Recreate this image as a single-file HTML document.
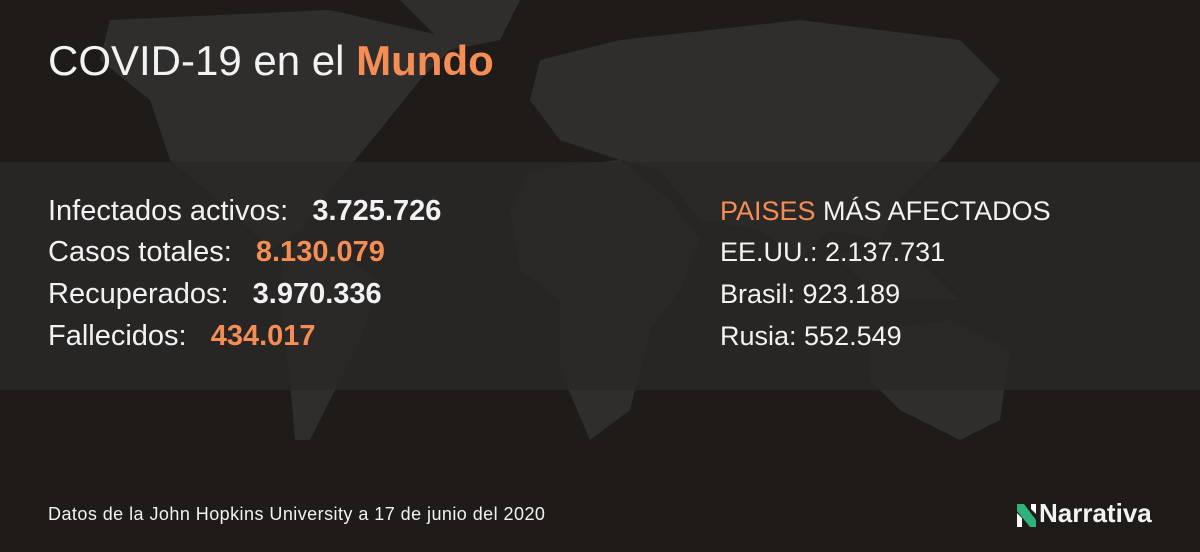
<!DOCTYPE html>
<html><head><meta charset="utf-8"><style>
body{margin:0;width:1200px;height:552px;overflow:hidden;background:#1e1b19;font-family:"Liberation Sans",sans-serif;color:#f2f2f2;position:relative}
svg{position:absolute;left:0;top:0}
.t{position:absolute;white-space:nowrap}
.o{color:#f68d55}
b{font-weight:bold;margin-left:8px}
.l{font-size:29px;left:48px}
.r{font-size:27px;left:720px}
</style></head><body>
<svg width="1200" height="552">
<g fill="#302e2d">
<path d="M110 20 L330 10 L460 40 L420 80 L380 130 L330 190 L300 230 L270 250 L230 210 L170 160 L150 100 L100 60 Z"/>
<path d="M400 0 L520 0 L500 40 L450 50 Z"/>
<path d="M285 245 L330 250 L380 280 L360 340 L330 400 L310 440 L295 440 L290 380 L280 300 Z"/>
<path d="M540 60 L620 40 L800 20 L960 40 L1000 80 L950 150 L900 200 L880 240 L830 230 L800 260 L760 230 L700 220 L660 170 L620 160 L560 140 L530 100 Z"/>
<path d="M530 170 L620 160 L670 200 L700 240 L680 290 L650 330 L630 410 L590 440 L560 370 L560 300 L520 270 L510 210 Z"/>
<path d="M870 330 L950 320 L1010 350 L1000 420 L960 440 L900 410 L870 380 Z"/>
<path d="M830 250 L920 260 L960 300 L880 300 Z"/>
</g>
<rect x="0" y="162" width="1200" height="228" fill="#2a2827" opacity="0.85"/>
</svg>
<div class="t" style="left:48px;top:37px;font-size:42px">COVID-19 en el <b class="o" style="margin-left:0">Mundo</b></div>
<div class="t l" style="top:195px">Infectados activos:&nbsp; <b>3.725.726</b></div>
<div class="t l" style="top:236px">Casos totales:&nbsp; <b class="o">8.130.079</b></div>
<div class="t l" style="top:278px">Recuperados:&nbsp; <b>3.970.336</b></div>
<div class="t l" style="top:320px">Fallecidos:&nbsp; <b class="o">434.017</b></div>
<div class="t r" style="top:196px"><span class="o">PAISES</span> MÁS AFECTADOS</div>
<div class="t r" style="top:237px">EE.UU.: 2.137.731</div>
<div class="t r" style="top:279px">Brasil: 923.189</div>
<div class="t r" style="top:321px">Rusia: 552.549</div>
<div class="t" style="left:48px;top:504px;font-size:18px;letter-spacing:0.45px">Datos de la John Hopkins University a 17 de junio del 2020</div>
<svg width="1200" height="552" style="pointer-events:none">
<polygon points="1017,504 1024,504 1036,520 1036,527 1030,527 1017,511" fill="#2fb37a"/>
<polygon points="1017,513 1022,518 1022,527 1017,527" fill="#fff"/>
<polygon points="1031,504 1036,504 1036,514 1031,509" fill="#fff"/>
</svg>
<div class="t" style="left:1039px;top:498px;font-size:26px;font-weight:bold">Narrativa</div>
</body></html>
